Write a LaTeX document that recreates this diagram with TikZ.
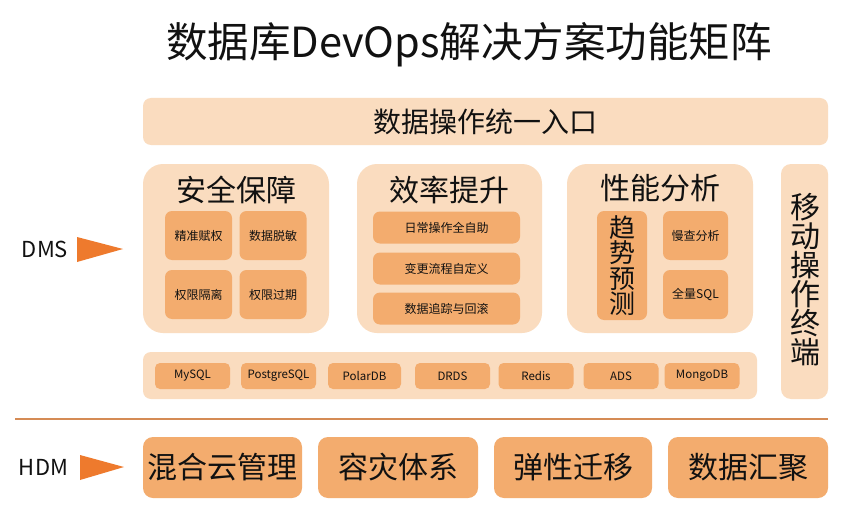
\documentclass[tikz,border=0pt]{standalone}
\usepackage{fontspec}
\setmainfont{Noto Sans CJK SC}
\usetikzlibrary{positioning}
\definecolor{outerc}{HTML}{FADCBF}
\definecolor{innerc}{HTML}{F3AC6E}
\definecolor{arrowc}{HTML}{EE7A2D}
\definecolor{linec}{HTML}{D58B55}
\definecolor{txtc}{HTML}{111111}
\tikzset{
  outerbox/.style={fill=outerc, draw=none, rounded corners=#1, inner sep=0pt},
  outerbox/.default=8pt,
  innerbox/.style={fill=innerc, draw=none, rounded corners=#1, inner sep=0pt, text=txtc},
  innerbox/.default=7pt,
  chiptext/.style={font=\fontsize{12}{14}\selectfont},
  bigtext/.style={font=\fontsize{30}{34}\selectfont, text=txtc},
}
\begin{document}
\begin{tikzpicture}[x=1pt,y=-1pt]
\useasboundingbox[fill=white] (0,0) rectangle (864,516);
% title
\node[font=\fontsize{41.5}{46}\selectfont, text=txtc] (title) at (469,45) {数据库DevOps解决方案功能矩阵};
% top bar
\node[outerbox, minimum width=685pt, minimum height=47pt] (top) at (485.5,121.5) {};
\node[font=\fontsize{28}{32}\selectfont, text=txtc] (toptxt) at (top.center) {数据操作统一入口};
% panels
\node[outerbox=20pt, minimum width=186pt, minimum height=169pt] (p1) at (236,248.5) {};
\node[outerbox=20pt, minimum width=185pt, minimum height=169pt] (p2) at (449.5,248.5) {};
\node[outerbox=20pt, minimum width=186pt, minimum height=169pt] (p3) at (660,248.5) {};
\node[bigtext] (p1t) at (236,190) {安全保障};
\node[bigtext] (p2t) at (449.5,190) {效率提升};
\node[bigtext] (p3t) at (660,188) {性能分析};
% panel 1 chips
\node[innerbox, minimum width=67pt, minimum height=49pt, chiptext] (a1) at (198.5,235.5) {精准赋权};
\node[innerbox, minimum width=67pt, minimum height=49pt, chiptext] (a2) at (273,235.5) {数据脱敏};
\node[innerbox, minimum width=67pt, minimum height=49pt, chiptext] (a3) at (198.5,294.5) {权限隔离};
\node[innerbox, minimum width=67pt, minimum height=49pt, chiptext] (a4) at (273,294.5) {权限过期};
% panel 2 chips
\node[innerbox, minimum width=147pt, minimum height=32pt, chiptext] (b1) at (446.5,227.5) {日常操作全自助};
\node[innerbox, minimum width=147pt, minimum height=32pt, chiptext] (b2) at (446.5,268.5) {变更流程自定义};
\node[innerbox, minimum width=147pt, minimum height=32pt, chiptext] (b3) at (446.5,308.5) {数据追踪与回滚};
% panel 3 chips
\node[innerbox, minimum width=50pt, minimum height=109pt, font=\fontsize{26}{25.5}\selectfont, align=center] (c1) at (622,265.5) {趋\\势\\预\\测};
\node[innerbox, minimum width=65pt, minimum height=49pt, chiptext] (c2) at (695.5,235.5) {慢查分析};
\node[innerbox, minimum width=65pt, minimum height=49pt, chiptext] (c3) at (695.5,294.5) {全量SQL};
% mobile
\node[outerbox=10pt, minimum width=47pt, minimum height=235pt] (mob) at (804.5,281.5) {};
\node[font=\fontsize{30}{29}\selectfont, text=txtc, align=center] (mobt) at (805,280) {移\\动\\操\\作\\终\\端};
% db row
\node[outerbox, minimum width=614pt, minimum height=47pt] (db) at (450,375.5) {};
\tikzset{dbchip/.style={innerbox=5pt, minimum width=75pt, minimum height=26pt, font=\fontsize{11.5}{13}\selectfont}}
\node[dbchip] (d1) at (192.5,376) {MySQL};
\node[dbchip] (d2) at (278.5,376) {PostgreSQL};
\node[dbchip, minimum width=73pt] (d3) at (364.5,376) {PolarDB};
\node[dbchip] (d4) at (452.5,376) {DRDS};
\node[dbchip] (d5) at (536,376) {Redis};
\node[dbchip] (d6) at (621,376) {ADS};
\node[dbchip] (d7) at (702,376) {MongoDB};
% separator
\coordinate (s1) at (15,419);
\coordinate (s2) at (828,419);
\draw[linec, line width=2pt] (s1) -- (s2);
% HDM boxes
\tikzset{hbox/.style={innerbox=10pt, minimum width=159pt, minimum height=61pt, bigtext}}
\node[hbox] (h1) at (222.5,467.5) {混合云管理};
\node[hbox, minimum width=160pt] (h2) at (398,467.5) {容灾体系};
\node[hbox, minimum width=158pt] (h3) at (573,467.5) {弹性迁移};
\node[hbox, minimum width=160pt] (h4) at (748,467.5) {数据汇聚};
% labels and arrows
\node[font=\fontsize{22}{24}\selectfont, text=txtc] (dms) at (45,249) {DMS};
\node[font=\fontsize{22}{24}\selectfont, text=txtc] (hdm) at (43.5,467) {HDM};
\fill[arrowc] (77,237) -- (77,262) -- (123,249) -- cycle;
\fill[arrowc] (80,455) -- (80,480) -- (124,467) -- cycle;
\end{tikzpicture}
\end{document}
